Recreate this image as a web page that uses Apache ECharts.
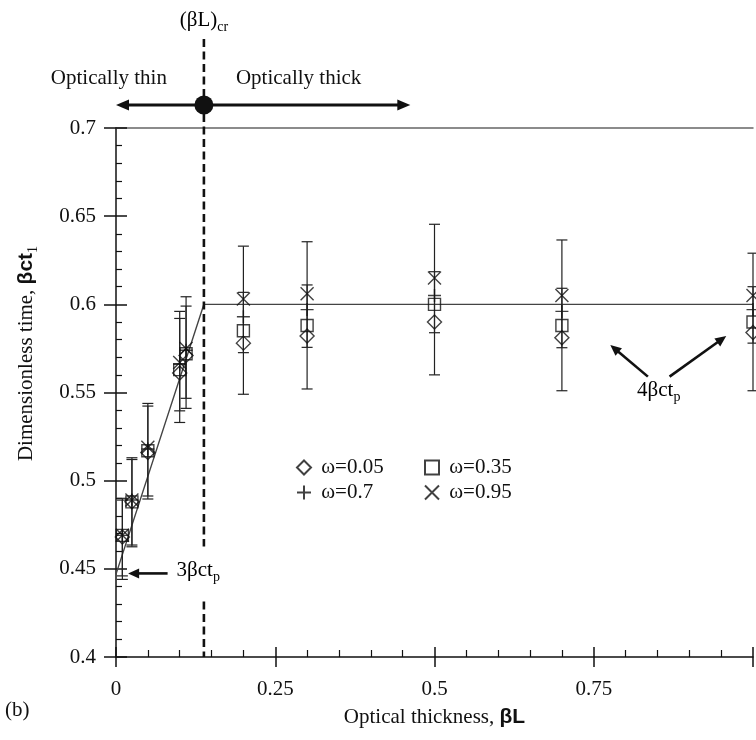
<!DOCTYPE html>
<html>
<head>
<meta charset="utf-8">
<script src="https://cdn.jsdelivr.net/npm/echarts@6/dist/echarts.min.js"></script>
<style>
html,body{margin:0;padding:0;background:#fff;}
#chart{width:756px;height:740px;}
</style>
</head>
<body>
<div id="chart"></div>
<script>
// optical thickness of each measured column
const thickness = [0.01, 0.025, 0.05, 0.1, 0.11, 0.2, 0.3, 0.5, 0.7, 1.0];
// dimensionless time for each albedo
const omega005 = [0.468, 0.488, 0.516, 0.561, 0.571, 0.578, 0.582, 0.590, 0.581, 0.584];
const omega035 = [0.469, 0.488, 0.517, 0.563, 0.572, 0.585, 0.588, 0.600, 0.588, 0.590];
const omega07  = [0.469, 0.489, 0.518, 0.566, 0.574, 0.593, 0.597, 0.605, 0.596, 0.597];
const omega095 = [0.469, 0.489, 0.519, 0.567, 0.575, 0.603, 0.606, 0.615, 0.605, 0.605];
// error bars (wide and narrow)
const wideLow   = [0.444, 0.4625, 0.4896, 0.533, 0.541, 0.549, 0.552, 0.560, 0.551, 0.551];
const wideHigh  = [0.490, 0.513, 0.5438, 0.596, 0.6043, 0.633, 0.6355, 0.6454, 0.6365, 0.629];
const narrowLow = [0.446, 0.4635, 0.4913, 0.5396, 0.5467, 0.5726, 0.5756, 0.5839, 0.5754, 0.578];
const narrowHigh= [0.489, 0.512, 0.5423, 0.592, 0.599, 0.6068, 0.611, 0.6185, 0.6091, 0.610];
// 3βct_p -> 4βct_p fit
const fitX = [0, 0.138, 1];
const fitY = [0.447, 0.6, 0.6];
const criticalThickness = 0.138;
const thickArrowEnd = 0.462;

const xTickLabels = ['0', '0.25', '0.5', '0.75', ''];
const yTickLabels = ['0.4', '0.45', '0.5', '0.55', '0.6', '0.65', '0.7'];

const serif = 'Liberation Serif';
const ink = '#111';
const chart = echarts.init(document.getElementById('chart'));

function pairs(ys){
    return thickness.map((x,i)=>[x, ys[i]]);
}
function bars(lo,hi){
    return thickness.map((x,i)=>[x, lo[i], hi[i]]);
}

function errorBar(params, api){
    const x = api.value(0);
    const top = api.coord([x, api.value(2)]);
    const bot = api.coord([x, api.value(1)]);
    const w = 5.5;
    const st = {stroke:'#222', lineWidth:1.2};
    return {type:'group', children:[
        {type:'line', shape:{x1:top[0],y1:top[1],x2:bot[0],y2:bot[1]}, style:st},
        {type:'line', shape:{x1:top[0]-w,y1:top[1],x2:top[0]+w,y2:top[1]}, style:st},
        {type:'line', shape:{x1:bot[0]-w,y1:bot[1],x2:bot[0]+w,y2:bot[1]}, style:st}
    ]};
}

function arrow(x1,y1,x2,y2,lw,head,half){
    const dx = x2-x1, dy = y2-y1;
    const len = Math.sqrt(dx*dx+dy*dy);
    const ux = dx/len, uy = dy/len;
    const bx = x2-ux*head, by = y2-uy*head;
    return [
        {type:'line', shape:{x1:x1,y1:y1,x2:bx+ux*2,y2:by+uy*2}, style:{stroke:ink,lineWidth:lw}},
        {type:'polygon', shape:{points:[[x2,y2],[bx-uy*half,by+ux*half],[bx+uy*half,by-ux*half]]}, style:{fill:ink}}
    ];
}

const subRich = {
    n:{fontFamily:serif, fontSize:21, color:ink, lineHeight:28},
    s:{fontFamily:serif, fontSize:14, color:ink, lineHeight:14, verticalAlign:'bottom'}
};

function annotations(params, api){
    const base = api.coord([criticalThickness, 0.4]);
    const top = api.coord([criticalThickness, 0.7]);
    const origin = api.coord([0, 0.7]);
    const right = api.coord([thickArrowEnd, 0.7]);
    const cy = top[1]-23;
    const cx = base[0];
    let kids = [
        {type:'line', shape:{x1:cx,y1:top[1]-89,x2:cx,y2:base[1]}, style:{stroke:ink,lineWidth:2.6,lineDash:[8,4.5]}}
    ];
    kids = kids.concat(arrow(cx,cy,origin[0],cy,3,13,5.5));
    kids = kids.concat(arrow(cx,cy,right[0],cy,3,13,5.5));
    kids.push({type:'circle', shape:{cx:cx,cy:cy,r:9.5}, style:{fill:ink}});
    kids.push({type:'text', style:{text:'{n|(βL)}{s|cr}', rich:subRich, x:cx, y:top[1]-108, align:'center', verticalAlign:'middle'}});
    kids.push({type:'text', style:{text:'Optically thin', fontFamily:serif, fontSize:21, fill:ink, x:cx-37, y:cy-27, align:'right', verticalAlign:'middle'}});
    kids.push({type:'text', style:{text:'Optically thick', fontFamily:serif, fontSize:21, fill:ink, x:cx+32, y:cy-27, align:'left', verticalAlign:'middle'}});
    // 4βct_p arrows
    const t1 = api.coord([0.835, 0.559]), h1 = api.coord([0.776, 0.577]);
    const t2 = api.coord([0.869, 0.559]), h2 = api.coord([0.958, 0.582]);
    kids = kids.concat(arrow(t1[0],t1[1],h1[0],h1[1],2.6,11,5));
    kids = kids.concat(arrow(t2[0],t2[1],h2[0],h2[1],2.6,11,5));
    const lab4 = api.coord([0.852, 0.551]);
    kids.push({type:'text', style:{text:'{n|4βct}{s|p}', rich:subRich, x:lab4[0], y:lab4[1], align:'center', verticalAlign:'middle'}});
    // 3βct_p arrow, its label breaks the dashed line
    const t3 = api.coord([0.081, 0.4474]), h3 = api.coord([0.019, 0.4474]);
    kids = kids.concat(arrow(t3[0],t3[1],h3[0],h3[1],2.6,11,5));
    kids.push({type:'text', style:{text:'{n|3βct}{s|p}', rich:subRich, x:t3[0]+9, y:t3[1]-1, align:'left', verticalAlign:'middle',
        backgroundColor:'#fff', padding:[10,2,14,0]}});
    return {type:'group', children:kids};
}

const hollow = {color:'rgba(0,0,0,0)', borderColor:ink, borderWidth:1.4};
const plusPath = 'path://M0,5L10,5M5,0L5,10';
const crossPath = 'path://M0,0L10,10M10,0L0,10';

const legendBase = {
    orient:'vertical', itemWidth:14, itemHeight:14, itemGap:4,
    textStyle:{fontFamily:serif, fontSize:21, color:ink},
    formatter:n=>' '+n,
    top:452
};

const option = {
    animation:false,
    backgroundColor:'#fff',
    grid:{left:116, top:128, width:643, height:529},
    legend:[
        Object.assign({left:291, data:['ω=0.05','ω=0.7']}, legendBase),
        Object.assign({left:419, data:['ω=0.35','ω=0.95']}, legendBase)
    ],
    graphic:[
        {type:'text', left:5, top:700, style:{text:'(b)', fontFamily:serif, fontSize:21, fill:ink}}
    ],
    xAxis:[
        {
            type:'value', min:0, max:1, interval:0.25, position:'bottom',
            axisLine:{lineStyle:{color:ink, width:1.5}},
            axisTick:{inside:true, length:10, lineStyle:{color:ink, width:1.5}},
            minorTick:{show:true, splitNumber:5, length:7, lineStyle:{color:ink, width:1.2}},
            splitLine:{show:false},
            axisLabel:{margin:22, fontFamily:serif, fontSize:21, color:ink,
                formatter:v=>xTickLabels[Math.round(v/0.25)]},
            name:'Optical thickness, {b|βL}',
            nameLocation:'middle', nameGap:50,
            nameTextStyle:{fontFamily:serif, fontSize:21, color:ink,
                rich:{b:{fontFamily:'Liberation Sans', fontWeight:'bold', fontSize:21, color:ink}}}
        },
        {
            type:'value', min:0, max:1, interval:0.25, position:'bottom',
            axisLine:{show:false},
            axisTick:{inside:false, length:10, lineStyle:{color:ink, width:1.5}},
            axisLabel:{show:false}, splitLine:{show:false}
        },
        {
            type:'value', min:0, max:1, position:'top',
            axisLine:{lineStyle:{color:'#666', width:1.5}},
            axisTick:{show:false}, axisLabel:{show:false}, splitLine:{show:false}
        }
    ],
    yAxis:[
        {
            type:'value', min:0.4, max:0.7, interval:0.05, position:'left',
            axisLine:{lineStyle:{color:ink, width:1.5}},
            axisTick:{inside:true, length:11, lineStyle:{color:ink, width:1.5}},
            minorTick:{show:true, splitNumber:5, length:6, lineStyle:{color:ink, width:1.2}},
            splitLine:{show:false},
            axisLabel:{margin:20, fontFamily:serif, fontSize:21, color:ink,
                formatter:v=>yTickLabels[Math.round((v-0.4)/0.05)]},
            name:'Dimensionless time, {b|βct}{s|1}',
            nameLocation:'middle', nameGap:76,
            nameTextStyle:{fontFamily:serif, fontSize:21, color:ink, padding:[0,0,0,78],
                rich:{
                    b:{fontFamily:'Liberation Sans', fontWeight:'bold', fontSize:21, color:ink, lineHeight:28},
                    s:{fontFamily:serif, fontSize:14, color:ink, lineHeight:14, verticalAlign:'bottom'}
                }}
        },
        {
            type:'value', min:0.4, max:0.7, interval:0.05, position:'left',
            axisLine:{show:false},
            axisTick:{inside:false, length:12, lineStyle:{color:ink, width:1.5}},
            axisLabel:{show:false}, splitLine:{show:false}
        }
    ],
    series:[
        {
            type:'line', name:'fit', data:fitX.map((x,i)=>[x, fitY[i]]),
            symbol:'none', lineStyle:{color:'#444', width:1.4}, z:1
        },
        {type:'custom', name:'wide bars', data:bars(wideLow, wideHigh), renderItem:errorBar, clip:false, z:2},
        {type:'custom', name:'narrow bars', data:bars(narrowLow, narrowHigh), renderItem:errorBar, clip:false, z:2},
        {type:'scatter', name:'ω=0.05', data:pairs(omega005), symbol:'diamond', symbolSize:14, itemStyle:hollow, z:3},
        {type:'scatter', name:'ω=0.35', data:pairs(omega035), symbol:'rect', symbolSize:12, itemStyle:hollow, z:3},
        {type:'scatter', name:'ω=0.7', data:pairs(omega07), symbol:plusPath, symbolSize:13, itemStyle:hollow, z:3},
        {type:'scatter', name:'ω=0.95', data:pairs(omega095), symbol:crossPath, symbolSize:13, itemStyle:hollow, z:3},
        {type:'custom', name:'notes', data:[[criticalThickness]], renderItem:annotations, clip:false, silent:true, z:4}
    ]
};
chart.setOption(option);
</script>
</body>
</html>
